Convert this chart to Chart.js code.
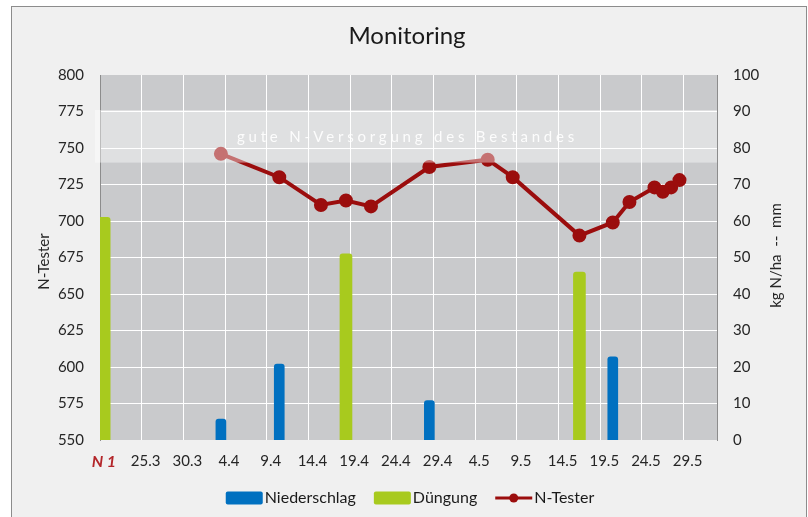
<!DOCTYPE html>
<html>
<head>
<meta charset="utf-8">
<script src="https://cdn.jsdelivr.net/npm/chart.js@4.4.0/dist/chart.umd.min.js"></script>
<style>
  html, body { margin: 0; padding: 0; background: #fff; }
</style>
</head>
<body>
<canvas id="chart" width="808" height="517"></canvas>
<script>
// Achsenbeschriftung x: alle 5 Tage, Start N1 = 20.3.
const xLabels = ['N 1', '25.3', '30.3', '4.4', '9.4', '14.4', '19.4', '24.4', '29.4', '4.5', '9.5', '14.5', '19.5', '24.5', '29.5'];
const anzahlTage = 74;

// N-Tester (linke Achse)
const nTesterDates = ['3.4', '10.4', '15.4', '18.4', '21.4', '28.4', '5.5', '8.5', '16.5', '20.5', '22.5', '25.5', '26.5', '27.5', '28.5'];
const nTesterValues = [746, 730, 711, 714, 710, 737, 742, 730, 690, 699, 713, 723, 720, 723, 728];

// Niederschlag und Düngung (rechte Achse, kg N/ha bzw. mm)
const niederschlagDates = ['3.4', '10.4', '28.4', '20.5'];
const niederschlagValues = [5.7, 20.8, 10.8, 22.8];
const duengungDates = ['20.3', '18.4', '16.5'];
const duengungValues = [61, 51, 46];

// Bereich "gute N-Versorgung" (N-Tester Werte)
const guteVersorgung = [740, 776];

const FONT = 'Lato, "Open Sans", sans-serif';
const ROT = '#9b0d0d';
const BLAU = '#0070c0';
const GRUEN = '#a8ca1e';

const startDate = new Date(2020, 2, 20);
function dayIndex(s) {
  const [d, m] = s.split('.').map(Number);
  return Math.round((new Date(2020, m - 1, d) - startDate) / 86400000);
}
// Werte sitzen in der Mitte des Tages
const toPoints = (dates, values) => dates.map((s, i) => ({ x: dayIndex(s) + 0.5, y: values[i] }));

const deko = {
  id: 'deko',
  beforeDraw(chart) {
    const { ctx, chartArea: a } = chart;
    ctx.save();
    ctx.fillStyle = '#fff';
    ctx.fillRect(0, 0, chart.width, chart.height);
    ctx.fillStyle = '#f0f0f0';
    ctx.fillRect(11, 6, 796, 520);
    ctx.strokeStyle = '#8c8c8c';
    ctx.lineWidth = 1;
    ctx.strokeRect(11.5, 6.5, 795, 520);
    ctx.fillStyle = '#c9cacc';
    ctx.fillRect(a.left, a.top, a.right - a.left, a.bottom - a.top);
    ctx.restore();
  },
  afterDatasetsDraw(chart) {
    const { ctx, chartArea: a } = chart;
    const y = chart.scales.y;
    const top = y.getPixelForValue(guteVersorgung[1]);
    const bottom = y.getPixelForValue(guteVersorgung[0]);
    ctx.save();
    ctx.fillStyle = 'rgba(255,255,255,0.42)';
    ctx.fillRect(a.left - 5, top, a.right - a.left + 5, bottom - top);
    ctx.fillStyle = 'rgba(255,255,255,0.9)';
    ctx.font = `15px ${FONT}`;
    ctx.letterSpacing = '3.8px';
    ctx.textAlign = 'center';
    ctx.textBaseline = 'middle';
    ctx.fillText('gute N-Versorgung des Bestandes', (a.left + a.right) / 2 - 1, (top + bottom) / 2 + 1);
    ctx.restore();
  },
  afterDraw(chart) {
    const { ctx, chartArea: a } = chart;
    const midY = (a.top + a.bottom) / 2;
    ctx.save();
    ctx.fillStyle = '#1a1a1a';
    ctx.textAlign = 'center';
    ctx.textBaseline = 'middle';
    ctx.font = `24px ${FONT}`;
    ctx.fillText('Monitoring', 407, 36);

    ctx.font = `15px ${FONT}`;
    ctx.fillStyle = '#262626';
    ctx.save();
    ctx.translate(44, midY + 4);
    ctx.rotate(-Math.PI / 2);
    ctx.fillText('N-Tester', 0, 0);
    ctx.restore();
    ctx.save();
    ctx.translate(776, midY - 2);
    ctx.rotate(-Math.PI / 2);
    ctx.fillText('kg N/ha  --  mm', 0, 0);
    ctx.restore();

    // Legende
    const order = ['Niederschlag', 'Düngung', 'N-Tester'];
    const items = order.map(l => chart.data.datasets.find(d => d.label === l));
    ctx.font = `16px ${FONT}`;
    ctx.textAlign = 'left';
    const boxW = 37, gap = 2, space = 18;
    const widths = items.map(it => boxW + gap + ctx.measureText(it.label).width);
    const total = widths.reduce((s, w) => s + w, 0) + space * (items.length - 1);
    let x = 410 - total / 2;
    const ly = 498;
    items.forEach((it, i) => {
      if (it.type === 'line') {
        ctx.strokeStyle = it.borderColor;
        ctx.lineWidth = 3;
        ctx.beginPath();
        ctx.moveTo(x, ly);
        ctx.lineTo(x + boxW, ly);
        ctx.stroke();
        ctx.fillStyle = it.borderColor;
        ctx.beginPath();
        ctx.arc(x + boxW / 2, ly, 4.5, 0, Math.PI * 2);
        ctx.fill();
      } else {
        ctx.fillStyle = it.backgroundColor;
        ctx.beginPath();
        ctx.roundRect(x, ly - 6.5, boxW, 13, 2);
        ctx.fill();
      }
      ctx.fillStyle = '#1a1a1a';
      ctx.fillText(it.label, x + boxW + gap, ly);
      x += widths[i] + space;
    });
    ctx.restore();
  }
};

const ctx = document.getElementById('chart').getContext('2d');
new Chart(ctx, {
  type: 'bar',
  data: {
    datasets: [
      {
        type: 'line',
        label: 'N-Tester',
        data: toPoints(nTesterDates, nTesterValues),
        yAxisID: 'y',
        borderColor: ROT,
        backgroundColor: ROT,
        borderWidth: 4,
        pointRadius: 5,
        pointHoverRadius: 5,
        tension: 0,
        order: 0
      },
      {
        label: 'Niederschlag',
        data: toPoints(niederschlagDates, niederschlagValues),
        yAxisID: 'y1',
        backgroundColor: BLAU,
        barThickness: 10,
        borderRadius: 3,
        grouped: false,
        order: 1
      },
      {
        label: 'Düngung',
        data: toPoints(duengungDates, duengungValues),
        yAxisID: 'y1',
        backgroundColor: GRUEN,
        barThickness: 12,
        borderRadius: 3,
        grouped: false,
        order: 2
      }
    ]
  },
  options: {
    responsive: false,
    animation: false,
    devicePixelRatio: 1,
    layout: { padding: { top: 75, left: 0, right: 0, bottom: 0 } },
    plugins: {
      legend: { display: false },
      title: { display: false },
      tooltip: { enabled: false }
    },
    scales: {
      x: {
        type: 'linear',
        min: 0,
        max: anzahlTage,
        offset: false,
        afterFit: s => { s.height = 77; },
        grid: { color: '#ffffff', lineWidth: 1, drawTicks: false, offset: false },
        border: { display: false },
        ticks: {
          stepSize: 5,
          includeBounds: false,
          autoSkip: false,
          maxRotation: 0,
          padding: 12,
          labelOffset: 4,
          callback: v => xLabels[v / 5],
          color: c => c.index === 0 ? '#b3262a' : '#262626',
          font: c => c.index === 0
            ? { family: FONT, size: 16, style: 'italic', weight: 'bold' }
            : { family: FONT, size: 15 }
        }
      },
      y: {
        position: 'left',
        min: 550,
        max: 800,
        afterFit: s => { s.width = 100; },
        grid: {
          color: c => (c.tick.value === 550 || c.tick.value === 800) ? 'rgba(0,0,0,0)' : '#ffffff',
          lineWidth: 1,
          drawTicks: false
        },
        border: { color: '#8c8c8c', width: 1 },
        ticks: { stepSize: 25, padding: 16, color: '#262626', font: { family: FONT, size: 15 } }
      },
      y1: {
        position: 'right',
        min: 0,
        max: 100,
        afterFit: s => { s.width = 91; },
        grid: { display: false, drawTicks: false },
        border: { color: '#8c8c8c', width: 1 },
        ticks: { stepSize: 10, padding: 16, color: '#262626', font: { family: FONT, size: 15 } }
      }
    }
  },
  plugins: [deko]
});
</script>
</body>
</html>
